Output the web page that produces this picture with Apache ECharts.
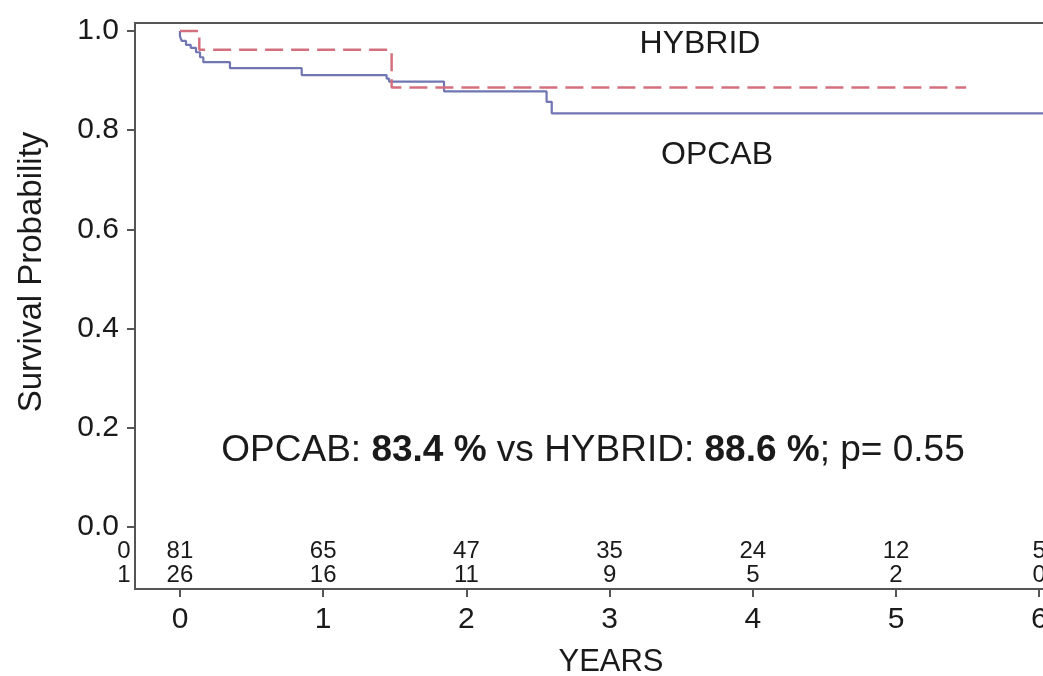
<!DOCTYPE html>
<html>
<head>
<meta charset="utf-8">
<script src="https://cdn.jsdelivr.net/npm/echarts@6/dist/echarts.min.js"></script>
<style>
html,body{margin:0;padding:0;background:#fff;}
#chart{width:1043px;height:676px;}
</style>
</head>
<body>
<div id="chart"></div>
<script>
// Kaplan-Meier step data (time in years, survival probability)
var opcabTimes = [0, 0, 0.012, 0.042, 0.075, 0.112, 0.14, 0.163, 0.349, 0.85, 1.443, 1.46, 1.844, 2.56, 2.596, 6.3];
var opcabSurv  = [1, 0.989, 0.980, 0.972, 0.966, 0.957, 0.947, 0.937, 0.925, 0.911, 0.904, 0.898, 0.878, 0.857, 0.834, 0.834];
var hybridTimes = [0, 0.135, 1.478, 5.49];
var hybridSurv  = [1, 0.962, 0.886, 0.886];

// Number at risk
var riskYears  = [0, 1, 2, 3, 4, 5, 6];
var riskOpcab  = [81, 65, 47, 35, 24, 12, 5];
var riskHybrid = [26, 16, 11, 9, 5, 2, 0];
var riskGroups = ['0', '1'];

// Tick labels
var xTicks = [0, 1, 2, 3, 4, 5, 6];
var yTicks = [0, 0.2, 0.4, 0.6, 0.8, 1.0];

var FONT = '"Liberation Sans", Arial, Helvetica, sans-serif';
var XMIN = -0.314, XMAX = 6.166, YMIN = -0.125, YMAX = 1.016;
var ROW0 = -0.050, ROW1 = -0.097;
var INK = '#1a1a1a';

function zip(a, b) { return a.map(function (v, i) { return [v, b[i]]; }); }

var chart = echarts.init(document.getElementById('chart'), null, {renderer: 'canvas'});

var riskData0 = riskYears.map(function (y, i) { return {value: [y, ROW0], label: {formatter: String(riskOpcab[i])}}; });
var riskData1 = riskYears.map(function (y, i) { return {value: [y, ROW1], label: {formatter: String(riskHybrid[i])}}; });
var groupData = [
  {value: [XMIN, ROW0], label: {formatter: riskGroups[0]}},
  {value: [XMIN, ROW1], label: {formatter: riskGroups[1]}}
];

function riskSeries(data, pos, dist) {
  return {
    type: 'scatter', data: data, symbolSize: 1, silent: true, clip: false,
    itemStyle: {opacity: 0},
    label: {show: true, position: pos, distance: dist, fontSize: 24, color: INK, opacity: 1,
            textBorderWidth: 0, fontFamily: FONT},
    emphasis: {disabled: true}
  };
}

var option = {
  animation: false,
  backgroundColor: '#ffffff',
  textStyle: {fontFamily: FONT},
  grid: {
    left: 135, width: 928, top: 23, bottom: 87,
    outerBoundsMode: 'none', containLabel: false,
    show: true, borderColor: '#555', borderWidth: 2, backgroundColor: 'transparent'
  },
  xAxis: {
    type: 'value', min: XMIN, max: XMAX,
    axisLine: {show: true, onZero: false, lineStyle: {color: '#555', width: 2}},
    axisTick: {show: true, customValues: xTicks, length: 8, lineStyle: {color: '#555', width: 2}},
    axisLabel: {show: true, customValues: xTicks, margin: 16, fontSize: 30, color: INK, fontFamily: FONT},
    splitLine: {show: false}
  },
  yAxis: {
    type: 'value', min: YMIN, max: YMAX,
    axisLine: {show: true, onZero: false, lineStyle: {color: '#555', width: 2}},
    axisTick: {show: true, customValues: yTicks, length: 8, lineStyle: {color: '#555', width: 2}},
    axisLabel: {
      show: true, customValues: yTicks, margin: 16, fontSize: 30, color: INK, fontFamily: FONT,
      formatter: function (v) { return v.toFixed(1); }
    },
    splitLine: {show: false}
  },
  graphic: [
    {type: 'text', x: 32, y: 272, rotation: Math.PI / 2,
     style: {text: 'Survival Probability', fontSize: 33, fontFamily: FONT, fill: INK, align: 'center', verticalAlign: 'middle'}},
    {type: 'text', x: 611, y: 662,
     style: {text: 'YEARS', fontSize: 31, fontFamily: FONT, fill: INK, align: 'center', verticalAlign: 'middle'}},
    {type: 'text', x: 700, y: 44,
     style: {text: 'HYBRID', fontSize: 32, fontFamily: FONT, fill: INK, align: 'center', verticalAlign: 'middle'}},
    {type: 'text', x: 717, y: 155,
     style: {text: 'OPCAB', fontSize: 32, fontFamily: FONT, fill: INK, align: 'center', verticalAlign: 'middle'}},
    {type: 'text', x: 593, y: 451,
     style: {
       text: 'OPCAB: {b|83.4 %} vs HYBRID: {b|88.6 %}; p= 0.55',
       fontSize: 37, fontFamily: FONT, fill: INK, align: 'center', verticalAlign: 'middle',
       rich: {b: {fontSize: 37, fontWeight: 'bold', fontFamily: FONT, fill: INK}}
     }}
  ],
  series: [
    {
      name: 'OPCAB', type: 'line', step: 'end', data: zip(opcabTimes, opcabSurv),
      showSymbol: false, symbol: 'none', clip: true,
      lineStyle: {color: '#6f76b2', width: 2.2}, z: 3
    },
    {
      name: 'HYBRID', type: 'line', step: 'end', data: zip(hybridTimes, hybridSurv),
      showSymbol: false, symbol: 'none', clip: true,
      lineStyle: {color: '#d4707e', width: 2.5, type: [18, 8]}, z: 4
    },
    riskSeries(riskData0, 'inside', 0),
    riskSeries(riskData1, 'inside', 0),
    riskSeries(groupData, 'left', 4)
  ]
};
chart.setOption(option);
</script>
</body>
</html>
